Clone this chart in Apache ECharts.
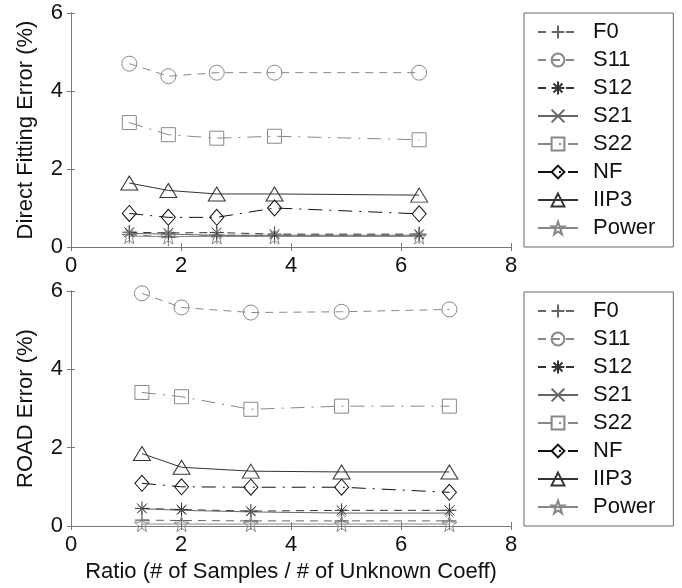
<!DOCTYPE html>
<html>
<head>
<meta charset="utf-8">
<script src="https://cdn.jsdelivr.net/npm/echarts@6/dist/echarts.min.js"></script>
<style>
  html, body { margin: 0; padding: 0; background: #fff; }
  #main { width: 682px; height: 588px; }
</style>
</head>
<body>
<div id="main"></div>
<script>
// x positions (ratio) for the two panels
var ratioDirect = [1.06, 1.77, 2.65, 3.70, 6.33];
var ratioRoad = [1.29, 2.01, 3.27, 4.92, 6.88];

var seriesNames = ['F0', 'S11', 'S12', 'S21', 'S22', 'NF', 'IIP3', 'Power'];
var xTicks = [0, 2, 4, 6, 8];
var yTicks = [0, 2, 4, 6];

// top panel: direct fitting error (%)
var directF0 = [0.32, 0.25, 0.30, 0.30, 0.30];
var directS11 = [4.70, 4.38, 4.47, 4.47, 4.47];
var directS12 = [0.38, 0.36, 0.37, 0.33, 0.33];
var directS21 = [0.35, 0.33, 0.30, 0.30, 0.30];
var directS22 = [3.19, 2.88, 2.79, 2.84, 2.75];
var directNF = [0.86, 0.76, 0.76, 1.00, 0.85];
var directIIP3 = [1.64, 1.45, 1.36, 1.36, 1.33];
var directPower = [0.28, 0.27, 0.27, 0.27, 0.27];

// bottom panel: ROAD error (%)
var roadF0 = [0.15, 0.14, 0.13, 0.13, 0.13];
var roadS11 = [5.94, 5.58, 5.45, 5.47, 5.53];
var roadS12 = [0.45, 0.42, 0.38, 0.40, 0.40];
var roadS21 = [0.44, 0.40, 0.36, 0.33, 0.33];
var roadS22 = [3.41, 3.30, 2.98, 3.06, 3.06];
var roadNF = [1.09, 1.00, 0.99, 0.99, 0.86];
var roadIIP3 = [1.85, 1.50, 1.40, 1.38, 1.38];
var roadPower = [0.05, 0.05, 0.05, 0.05, 0.05];

var directData = [directF0, directS11, directS12, directS21, directS22, directNF, directIIP3, directPower];
var roadData = [roadF0, roadS11, roadS12, roadS21, roadS22, roadNF, roadIIP3, roadPower];

var FONT = 'Liberation Sans, Arial, sans-serif';

// marker shapes
function starPath() {
    var pts = [];
    for (var i = 0; i < 10; i++) {
        var r = i % 2 === 0 ? 1 : 0.4;
        var a = -Math.PI / 2 + i * Math.PI / 5;
        pts.push((r * Math.cos(a)).toFixed(3) + ',' + (r * Math.sin(a)).toFixed(3));
    }
    return 'path://M' + pts.join('L') + 'Z';
}
var PLUS = 'path://M0,-1L0,1M-1,0L1,0';
var CROSS = 'path://M-1,-1L1,1M-1,1L1,-1';
var ASTER = 'path://M0,-1L0,1M-1,0L1,0M-0.7,-0.7L0.7,0.7M-0.7,0.7L0.7,-0.7';

var looks = {
    F0:    { symbol: PLUS, size: [14, 18], color: '#666', line: [8, 6] },
    S11:   { symbol: 'circle', size: 15, color: '#888', line: [8, 6] },
    S12:   { symbol: ASTER, size: 14, color: '#333', line: [8, 6] },
    S21:   { symbol: CROSS, size: 8, color: '#666', line: 'solid' },
    S22:   { symbol: 'rect', size: 14, color: '#888', line: [14, 7, 2, 7] },
    NF:    { symbol: 'diamond', size: [14, 16], color: '#111', line: [14, 7, 2, 7] },
    IIP3:  { symbol: 'triangle', size: [17, 14], color: '#333', line: 'solid' },
    Power: { symbol: starPath(), size: 15, color: '#888', line: 'solid' }
};

function buildSeries(data, ratio, axisIdx) {
    var out = [];
    for (var i = 0; i < seriesNames.length; i++) {
        var name = seriesNames[i];
        var lk = looks[name];
        var pts = [];
        for (var j = 0; j < ratio.length; j++) {
            pts.push([ratio[j], data[i][j]]);
        }
        out.push({
            name: name,
            type: 'line',
            xAxisIndex: axisIdx,
            yAxisIndex: axisIdx,
            symbol: lk.symbol,
            symbolSize: lk.size,
            showSymbol: true,
            silent: true,
            animation: false,
            lineStyle: { color: lk.color, width: 1, type: lk.line },
            itemStyle: { color: 'transparent', borderColor: lk.color, borderWidth: 1 },
            data: pts
        });
    }
    return out;
}

var axisLineStyle = { color: '#777', width: 1 };
var labelStyle = { color: '#111', fontSize: 22, fontFamily: FONT };

function xAxes(gridIndex, showName) {
    return [{
        type: 'value', gridIndex: gridIndex, position: 'bottom',
        min: xTicks[0], max: xTicks[xTicks.length - 1], interval: 2,
        axisLine: { lineStyle: axisLineStyle },
        axisTick: { inside: true, length: 4, lineStyle: axisLineStyle },
        axisLabel: Object.assign({ margin: 8 }, labelStyle),
        splitLine: { show: false },
        name: showName ? 'Ratio (# of Samples / # of Unknown Coeff)' : '',
        nameLocation: 'middle',
        nameGap: 35,
        nameTextStyle: labelStyle
    }, {
        type: 'value', gridIndex: gridIndex, position: 'top',
        min: 0, max: 8, interval: 2,
        axisLine: { lineStyle: axisLineStyle },
        axisTick: { inside: true, length: 4, lineStyle: axisLineStyle },
        axisLabel: { show: false },
        splitLine: { show: false }
    }];
}

function yAxes(gridIndex, title) {
    return [{
        type: 'value', gridIndex: gridIndex, position: 'left',
        min: yTicks[0], max: yTicks[yTicks.length - 1], interval: 2,
        axisLine: { show: true, lineStyle: axisLineStyle },
        axisTick: { show: true, inside: true, length: 4, lineStyle: axisLineStyle },
        axisLabel: Object.assign({ margin: 8 }, labelStyle),
        splitLine: { show: false },
        name: title,
        nameLocation: 'middle',
        nameGap: 34,
        nameTextStyle: labelStyle
    }, {
        type: 'value', gridIndex: gridIndex, position: 'right',
        min: 0, max: 6, interval: 2,
        axisLine: { show: true, lineStyle: axisLineStyle },
        axisTick: { show: true, inside: true, length: 4, lineStyle: axisLineStyle },
        axisLabel: { show: false },
        splitLine: { show: false }
    }];
}

function legendAt(top) {
    return {
        orient: 'vertical',
        left: 524,
        top: top,
        padding: [8, 18, 8, 13],
        itemWidth: 40,
        itemHeight: 16,
        itemGap: 6,
        borderColor: '#666',
        borderWidth: 1,
        selectedMode: false,
        data: seriesNames,
        textStyle: { color: '#111', fontSize: 22, fontFamily: FONT, lineHeight: 22, padding: [0, 0, 0, 10] }
    };
}

var chart = echarts.init(document.getElementById('main'));
chart.setOption({
    backgroundColor: '#fff',
    animation: false,
    grid: [
        { left: 71, top: 13, width: 440, height: 234 },
        { left: 71, top: 291, width: 440, height: 235 }
    ],
    legend: [legendAt(13), legendAt(292)],
    xAxis: xAxes(0, false).concat(xAxes(1, true)),
    yAxis: yAxes(0, 'Direct Fitting Error (%)').concat(yAxes(1, 'ROAD Error (%)')),
    series: buildSeries(directData, ratioDirect, 0).concat(buildSeries(roadData, ratioRoad, 2))
});
</script>
</body>
</html>
